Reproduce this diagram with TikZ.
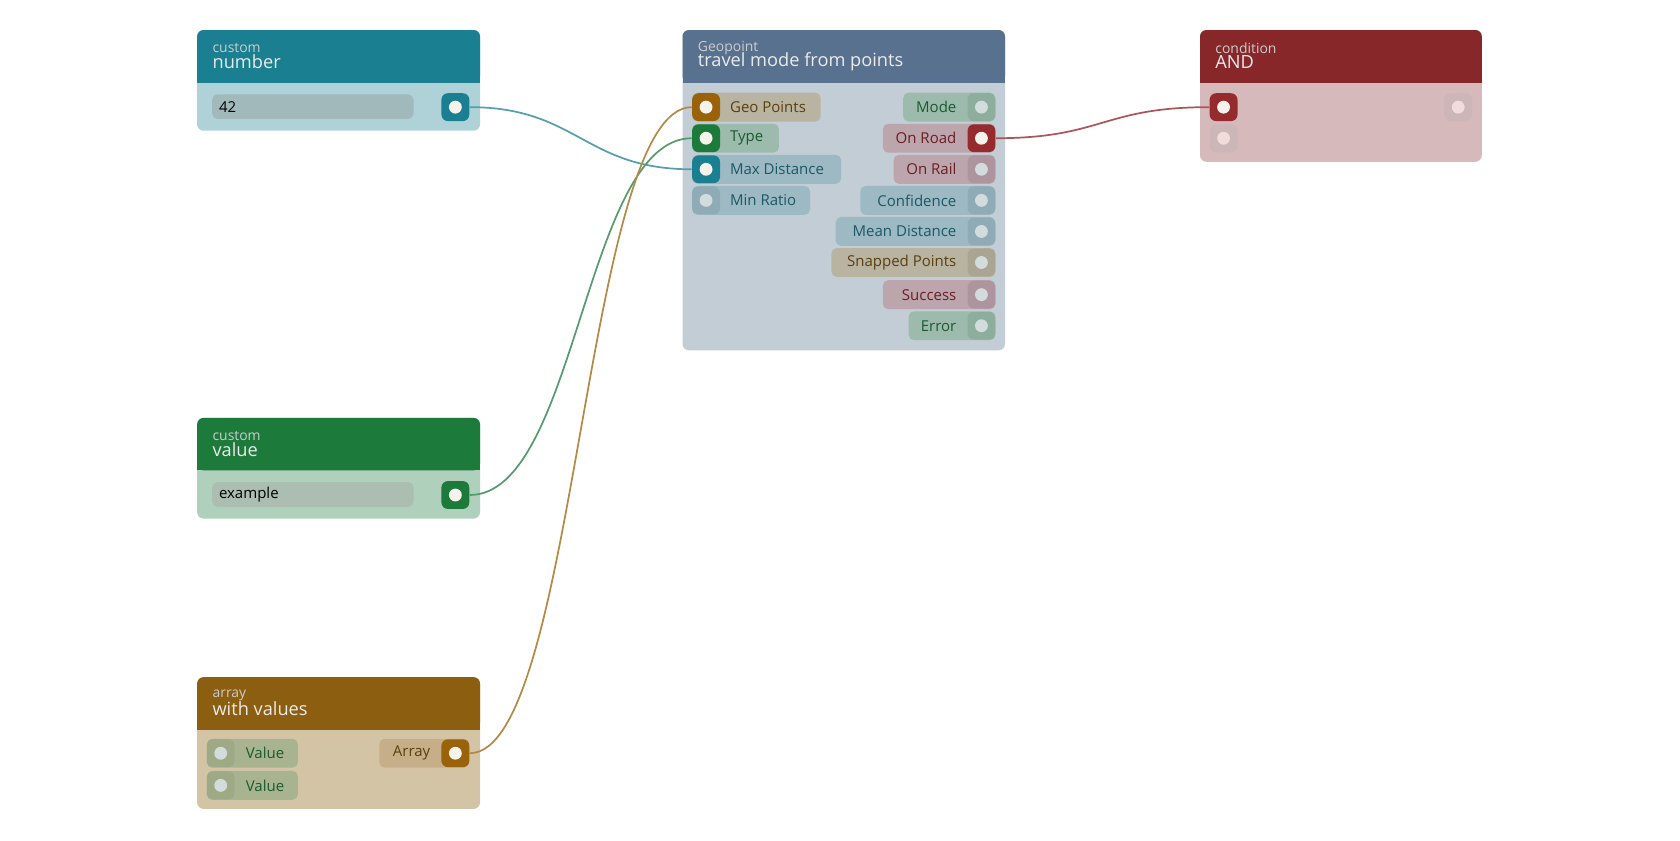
\documentclass[tikz,border=0pt]{standalone}
\usepackage{fontspec}
\setmainfont{Open Sans}
\definecolor{tealc}{HTML}{1A7F90}\definecolor{tealpill}{HTML}{9DBAC4}\definecolor{tealtxt}{HTML}{1B5864}\definecolor{tealoff}{HTML}{8FABB6}
\definecolor{greenc}{HTML}{1C7A3A}\definecolor{greenpill}{HTML}{9CBBAC}\definecolor{greentxt}{HTML}{1C5A30}\definecolor{greenoff}{HTML}{8DAD9D}
\definecolor{brownc}{HTML}{9A6209}\definecolor{brownpill}{HTML}{B9B3A2}\definecolor{browntxt}{HTML}{5B3F0E}\definecolor{brownoff}{HTML}{AAA493}
\definecolor{redc}{HTML}{962B2E}\definecolor{redpill}{HTML}{BCA5AD}\definecolor{redtxt}{HTML}{6B1E22}\definecolor{redoff}{HTML}{AE949D}
\definecolor{offdot}{HTML}{D3DCDD}\definecolor{ondot}{HTML}{F6F3EC}
\definecolor{geohead}{HTML}{58718F}\definecolor{geobody}{HTML}{C3CDD5}
\definecolor{arrhead}{HTML}{8B5E10}\definecolor{arrbody}{HTML}{D4C4A6}
\definecolor{valpill}{HTML}{A8B48F}\definecolor{valoff}{HTML}{9EAA86}\definecolor{arrpill}{HTML}{C6AF88}
\tikzset{
  port/.style 2 args={rectangle, rounded corners=3pt, minimum size=13pt, inner sep=0pt, fill=#1,
    path picture={\fill[#2] (path picture bounding box.center) circle (3pt);}},
  head/.style={anchor=west, inner sep=0pt, text=white!92!black, font=\fontsize{8.5}{9}\selectfont},
  sub/.style={anchor=west, inner sep=0pt, text=white!80!black, font=\fontsize{6.5}{7}\selectfont},
  lbl/.style={inner sep=0pt, font=\fontsize{7}{8}\selectfont},
  wire/.style={line width=0.8pt},
}
% node box: x0, y0, x1, y1, header colour, body colour
\newcommand{\nodebox}[6]{%
  \fill[#6, rounded corners=3pt] (#1,#2) rectangle (#3,#4);
  \fill[#5, rounded corners=3pt] (#1,#2) rectangle (#3,#2+49);
  \fill[#5] (#1,#2+30) rectangle (#3,#2+49);}
\begin{document}
\begin{tikzpicture}[x=0.5pt,y=-0.5pt]
\useasboundingbox (0,0) rectangle (1568,784);

%custom number
\nodebox{184}{28}{448}{122}{tealc}{tealc!35!white}
\node[sub] at (198,45) {custom};
\node[head] at (198,58) {number};
\fill[tealc!40!gray!55!white, rounded corners=2.5pt] (198,88) rectangle (386,111);
\node[lbl, anchor=west] at (204,100) {42};
\node[port={tealc}{ondot}] (num) at (425,100) {};

%custom value
\nodebox{184}{390}{448}{484}{greenc}{greenc!35!white}
\node[sub] at (198,407) {custom};
\node[head] at (198,420) {value};
\fill[greenc!40!gray!50!white, rounded corners=2.5pt] (198,450) rectangle (386,473);
\node[lbl, anchor=west] at (204,462) {example};
\node[port={greenc}{ondot}] (val) at (425,462) {};

%array with values
\nodebox{184}{632}{448}{755}{arrhead}{arrbody}
\node[sub] at (198,649) {array};
\node[head] at (198,661) {with values};
\foreach \y/\nm in {703/va, 733/vb}{
  \fill[valpill, rounded corners=2.5pt] (193,\y-13.5) rectangle (278,\y+13.5);
  \node[port={valoff}{offdot}] (\nm) at (206,\y) {};
  \node[lbl, anchor=west, text=greentxt] at (229,\y) {Value};
}
\fill[arrpill, rounded corners=2.5pt] (354,689.5) rectangle (438,716.5);
\node[lbl, anchor=east, text=browntxt] at (402,703) {Array};
\node[port={brownc}{ondot}] (arr) at (425,703) {};

%Geopoint travel mode from points
\nodebox{637}{28}{938}{327}{geohead}{geobody}
\node[sub] at (651,45) {Geopoint};
\node[head] at (651,58) {travel mode from points};
\foreach \nm/\txt/\xe/\y/\pc/\tc/\po/\dot in {
    geo/Geo Points/766/100/brownpill/browntxt/brownc/ondot,
    typ/Type/727/129/greenpill/greentxt/greenc/ondot,
    maxd/Max Distance/785/158/tealpill/tealtxt/tealc/ondot,
    minr/Min Ratio/756/187/tealpill/tealtxt/tealoff/offdot}{
  \fill[\pc, rounded corners=2.5pt] (646,\y-13.5) rectangle (\xe,\y+13.5);
  \node[port={\po}{\dot}] (\nm) at (659,\y) {};
  \node[lbl, anchor=west, text=\tc] at (681,\y) {\txt};
}
\foreach \nm/\txt/\xs/\y/\pc/\tc/\po/\dot in {
    mode/Mode/843/100/greenpill/greentxt/greenoff/offdot,
    road/On Road/824/129/redpill/redtxt/redc/ondot,
    rail/On Rail/834/158/redpill/redtxt/redoff/offdot,
    conf/Confidence/803/187/tealpill/tealtxt/tealoff/offdot,
    mean/Mean Distance/780/216/tealpill/tealtxt/tealoff/offdot,
    snap/Snapped Points/776/245/brownpill/browntxt/brownoff/offdot,
    succ/Success/824/275/redpill/redtxt/redoff/offdot,
    err/Error/848/304/greenpill/greentxt/greenoff/offdot}{
  \fill[\pc, rounded corners=2.5pt] (\xs,\y-13.5) rectangle (929,\y+13.5);
  \node[port={\po}{\dot}] (\nm) at (916,\y) {};
  \node[lbl, anchor=east, text=\tc] at (893,\y) {\txt};
}

%condition AND
\nodebox{1120}{28}{1383}{151}{redc!90!black}{redc!30!white!90!gray}
\node[sub] at (1134,45) {condition};
\node[head] at (1134,58) {AND};
\node[port={redc}{ondot}] (anda) at (1142,100) {};
\node[port={redc!25!white!75!gray}{red!10!white!90!gray}] (andb) at (1142,129) {};
\node[port={redc!25!white!75!gray}{red!10!white!90!gray}] (andout) at (1361,100) {};

%wires
\draw[wire, tealc!75!white] (num.east) .. controls +(100,0) and +(-100,0) .. (maxd.west);
\draw[wire, greenc!75!white] (val.east) .. controls +(100,0) and +(-100,0) .. (typ.west);
\draw[wire, brownc!75!white] (arr.east) .. controls +(100,0) and +(-100,0) .. (geo.west);
\draw[wire, redc!80!white] (road.east) .. controls +(100,0) and +(-100,0) .. (anda.west);
\end{tikzpicture}
\end{document}
